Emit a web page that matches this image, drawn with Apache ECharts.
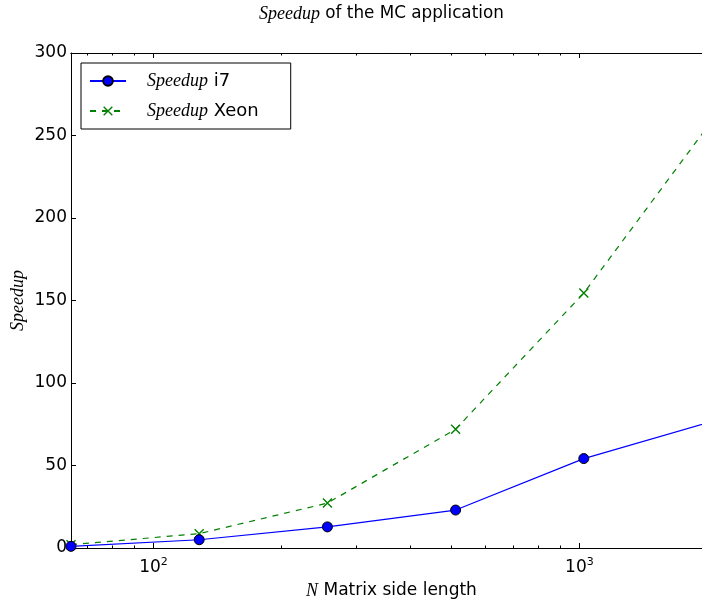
<!DOCTYPE html>
<html>
<head>
<meta charset="utf-8">
<script src="https://cdn.jsdelivr.net/npm/echarts@6/dist/echarts.min.js"></script>
<style>
  html, body { margin: 0; padding: 0; background: #fff; }
  #chart { width: 702px; height: 602px; }
</style>
</head>
<body>
<div id="chart"></div>
<script>
// matrix side length N
const sizes = [64, 128, 256, 512, 1024, 2048];
const speedupI7 = [1, 5, 12.8, 23, 54.2, 76.7];
const speedupXeon = [2, 8.7, 27.2, 72, 154.5, 259];

const majorTicks = [100, 1000];
const minorTicks = [70, 80, 90, 200, 300, 400, 500, 600, 700, 800, 900, 2000];

const font = 'DejaVu Sans';
const mathFont = 'Liberation Serif';
const italic = { fontFamily: mathFont, fontStyle: 'italic', fontSize: 18, color: '#000' };

const chart = echarts.init(document.getElementById('chart'));

function xAxisOf(pos, ticks, len, showLabel) {
  return {
    type: 'log',
    logBase: 10,
    min: 64,
    max: 2048,
    position: pos,
    axisLine: { show: true, lineStyle: { color: '#000', width: 1 } },
    axisTick: { show: true, inside: true, length: len, customValues: ticks, lineStyle: { color: '#000' } },
    axisLabel: {
      show: showLabel,
      customValues: majorTicks,
      margin: 9,
      fontFamily: font,
      fontSize: 17,
      color: '#000',
      formatter: (v) => '10{sup|' + Math.round(Math.log10(v)) + '}',
      rich: { sup: { fontFamily: font, fontSize: 11, verticalAlign: 'top', padding: [0, 0, 10, 0], color: '#000' } }
    },
    splitLine: { show: false },
    minorTick: { show: false }
  };
}

const bottomMajor = xAxisOf('bottom', majorTicks, 5, true);
bottomMajor.name = '{i|N} Matrix side length';
bottomMajor.nameLocation = 'middle';
bottomMajor.nameGap = 34;
bottomMajor.nameTextStyle = { fontFamily: font, fontSize: 17, color: '#000', rich: { i: italic } };

chart.setOption({
  animation: false,
  title: {
    text: '{i|Speedup} of the MC application',
    left: 254,
    top: 0,
    textStyle: { fontFamily: font, fontSize: 16.8, fontWeight: 'normal', color: '#000', rich: { i: { fontFamily: mathFont, fontStyle: 'italic', fontSize: 18, color: '#000' } } }
  },
  legend: {
    orient: 'vertical',
    left: 81,
    top: 63,
    padding: [9, 32, 9, 8],
    itemGap: 12,
    itemWidth: 36,
    itemHeight: 12,
    backgroundColor: '#fff',
    borderColor: '#000',
    borderWidth: 1,
    borderRadius: 0,
    textStyle: { fontFamily: font, fontSize: 18, color: '#000', padding: [0, 0, 0, 16], rich: { i: italic } },
    formatter: (name) => '{i|Speedup} ' + name.split(' ')[1],
    data: ['Speedup i7', 'Speedup Xeon']
  },
  grid: { left: 71, width: 641, top: 53, bottom: 54, containLabel: false, outerBoundsMode: 'none' },
  xAxis: [
    bottomMajor,
    xAxisOf('bottom', minorTicks, 2.5, false),
    xAxisOf('top', majorTicks, 5, false),
    xAxisOf('top', minorTicks, 2.5, false)
  ],
  yAxis: [{
    type: 'value',
    min: 0,
    max: 300,
    interval: 50,
    name: 'Speedup',
    nameLocation: 'middle',
    nameGap: 44,
    nameMoveOverlap: false,
    nameTextStyle: italic,
    axisLine: { show: true, lineStyle: { color: '#000', width: 1 } },
    axisTick: { show: true, inside: true, length: 5, lineStyle: { color: '#000' } },
    axisLabel: { margin: 4, fontFamily: font, fontSize: 17, color: '#000' },
    splitLine: { show: false }
  }],
  series: [
    {
      name: 'Speedup i7',
      type: 'line',
      data: sizes.map((n, i) => [n, speedupI7[i]]),
      symbol: 'circle',
      symbolSize: 10,
      lineStyle: { color: '#0000ff', width: 1.2 },
      itemStyle: { color: '#0000ff', borderColor: '#000', borderWidth: 1 },
      z: 3
    },
    {
      name: 'Speedup Xeon',
      type: 'line',
      data: sizes.map((n, i) => [n, speedupXeon[i]]),
      symbol: 'path://M0,1 L1,0 L10,9 L9,10 Z M9,0 L10,1 L1,10 L0,9 Z',
      symbolSize: 10,
      lineStyle: { color: '#008000', width: 1.2, type: [6, 6] },
      itemStyle: { color: '#008000' },
      z: 2
    }
  ]
});
</script>
</body>
</html>
